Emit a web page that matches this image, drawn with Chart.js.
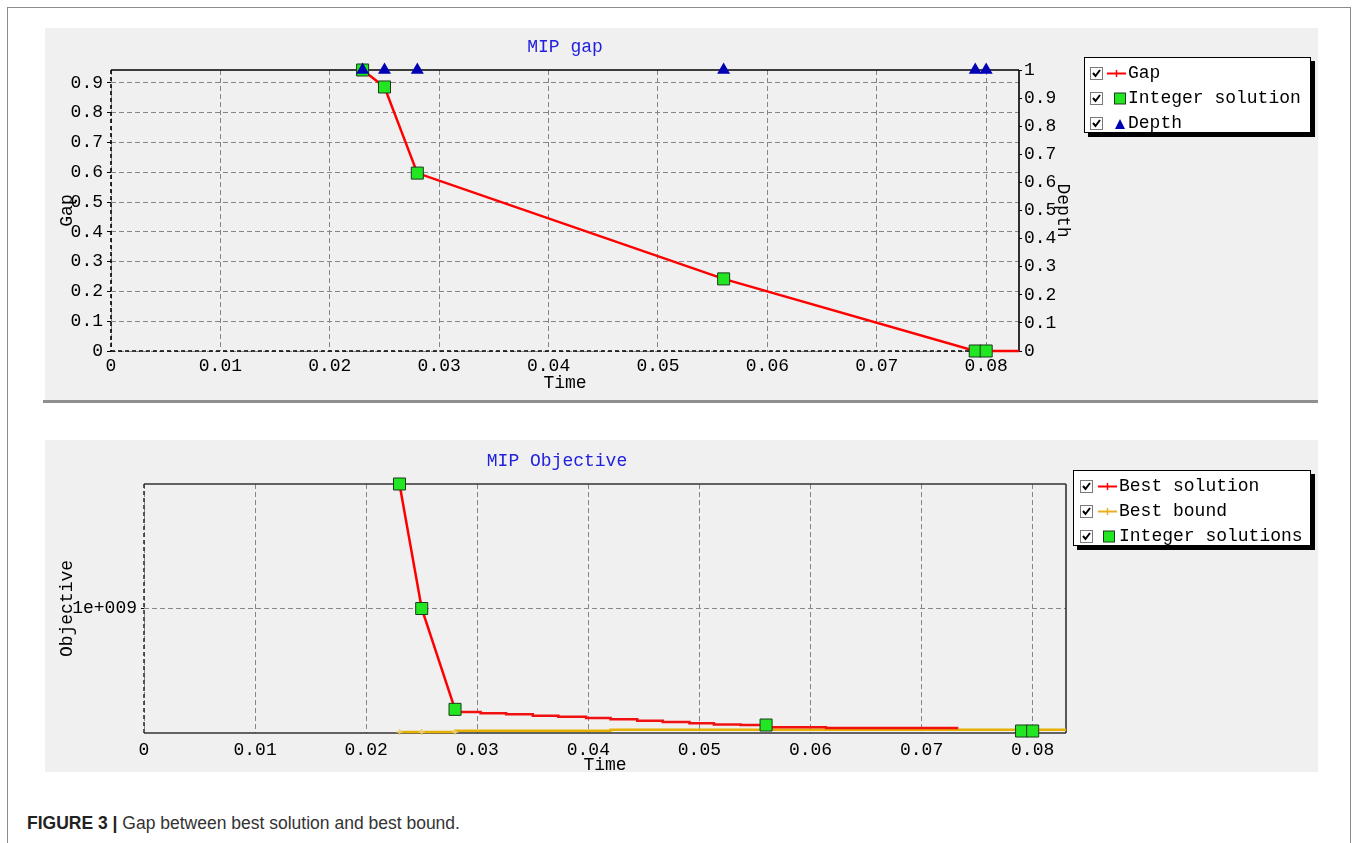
<!DOCTYPE html>
<html><head><meta charset="utf-8">
<script src="https://cdn.jsdelivr.net/npm/chart.js@4.4.1/dist/chart.umd.min.js"></script>
<style>
html,body{margin:0;padding:0;background:#fff;width:1357px;height:843px;overflow:hidden;}
#frame{position:absolute;left:7px;top:7px;width:1342px;height:900px;border:1px solid #8c8c8c;border-bottom:none;}
.panel{position:absolute;background:#f0f0f0;}
#p1{left:45px;top:28px;width:1273px;height:372px;}
#sep{position:absolute;left:43px;top:400px;width:1275px;height:3px;background:#8f8f8f;}
#p2{left:45px;top:440px;width:1273px;height:332px;}
canvas{position:absolute;}
#c1{left:45px;top:28px;}
#c2{left:45px;top:440px;}
.legend{position:absolute;background:#fff;border:1px solid #000;box-shadow:4px 4px 0 #000;font:18px "Liberation Mono",monospace;color:#000;padding-top:3px;box-sizing:border-box;}
.row{position:relative;height:25px;line-height:25px;white-space:nowrap;}
.row svg{position:absolute;}
.row .cb{left:5px;top:6px;}
.row .ic{left:22px;top:6px;}
.row span{position:absolute;left:43px;top:0;}
#lg1{left:1084px;top:57px;width:227px;height:76px;}
#lg2{left:1073px;top:470px;width:238px;height:76px;}
#lg2 .cb{left:6px;}
#lg2 .ic{left:24px;}
#lg2 span{left:45px;}
#caption{position:absolute;left:27px;top:812px;font:17.5px "Liberation Sans",Arial,sans-serif;color:#333;line-height:22px;}
#caption b{color:#222;}
</style>
</head>
<body>
<div id="frame"></div>
<div class="panel" id="p1"></div>
<div id="sep"></div>
<div class="panel" id="p2"></div>
<canvas id="c1" width="1273" height="372"></canvas>
<canvas id="c2" width="1273" height="340"></canvas>

<div class="legend" id="lg1">
  <div class="row">
    <svg class="cb" width="13" height="13"><rect x="0.5" y="0.5" width="12" height="12" fill="#fff" stroke="#7a7a7a"/><polyline points="3,6 5.5,9 10,3" fill="none" stroke="#000" stroke-width="2"/></svg>
    <svg class="ic" width="20" height="13"><line x1="0" y1="6.5" x2="19" y2="6.5" stroke="#ff0000" stroke-width="2"/><line x1="9.5" y1="3" x2="9.5" y2="10" stroke="#ff0000" stroke-width="1.5"/></svg>
    <span>Gap</span>
  </div>
  <div class="row">
    <svg class="cb" width="13" height="13"><rect x="0.5" y="0.5" width="12" height="12" fill="#fff" stroke="#7a7a7a"/><polyline points="3,6 5.5,9 10,3" fill="none" stroke="#000" stroke-width="2"/></svg>
    <svg class="ic" width="20" height="13"><rect x="7.5" y="1" width="11" height="11" fill="#22e622" stroke="#1c3a1c"/></svg>
    <span>Integer solution</span>
  </div>
  <div class="row">
    <svg class="cb" width="13" height="13"><rect x="0.5" y="0.5" width="12" height="12" fill="#fff" stroke="#7a7a7a"/><polyline points="3,6 5.5,9 10,3" fill="none" stroke="#000" stroke-width="2"/></svg>
    <svg class="ic" width="20" height="13"><polygon points="13,2 8,12 18,12" fill="#0000b4"/></svg>
    <span>Depth</span>
  </div>
</div>

<div class="legend" id="lg2">
  <div class="row">
    <svg class="cb" width="13" height="13"><rect x="0.5" y="0.5" width="12" height="12" fill="#fff" stroke="#7a7a7a"/><polyline points="3,6 5.5,9 10,3" fill="none" stroke="#000" stroke-width="2"/></svg>
    <svg class="ic" width="20" height="13"><line x1="0" y1="6.5" x2="19" y2="6.5" stroke="#ff0000" stroke-width="2"/><line x1="9.5" y1="3" x2="9.5" y2="10" stroke="#ff0000" stroke-width="1.5"/></svg>
    <span>Best solution</span>
  </div>
  <div class="row">
    <svg class="cb" width="13" height="13"><rect x="0.5" y="0.5" width="12" height="12" fill="#fff" stroke="#7a7a7a"/><polyline points="3,6 5.5,9 10,3" fill="none" stroke="#000" stroke-width="2"/></svg>
    <svg class="ic" width="20" height="13"><line x1="0" y1="6.5" x2="19" y2="6.5" stroke="#e8b020" stroke-width="2"/><line x1="9.5" y1="3" x2="9.5" y2="10" stroke="#e8b020" stroke-width="1.5"/></svg>
    <span>Best bound</span>
  </div>
  <div class="row">
    <svg class="cb" width="13" height="13"><rect x="0.5" y="0.5" width="12" height="12" fill="#fff" stroke="#7a7a7a"/><polyline points="3,6 5.5,9 10,3" fill="none" stroke="#000" stroke-width="2"/></svg>
    <svg class="ic" width="20" height="13"><rect x="5.5" y="1" width="11" height="11" fill="#22e622" stroke="#1c3a1c"/></svg>
    <span>Integer solutions</span>
  </div>
</div>

<div id="caption"><b>FIGURE 3 |</b> Gap between best solution and best bound.</div>

<script>
// ---- tick values / labels ----
const timeTicks = [0, 0.01, 0.02, 0.03, 0.04, 0.05, 0.06, 0.07, 0.08];
const timeTickLabels = ['0', '0.01', '0.02', '0.03', '0.04', '0.05', '0.06', '0.07', '0.08'];
const gapTicks = [0, 0.1, 0.2, 0.3, 0.4, 0.5, 0.6, 0.7, 0.8, 0.9];
const gapTickLabels = ['0', '0.1', '0.2', '0.3', '0.4', '0.5', '0.6', '0.7', '0.8', '0.9'];
const depthTicks = [0, 0.1, 0.2, 0.3, 0.4, 0.5, 0.6, 0.7, 0.8, 0.9, 1];
const depthTickLabels = ['0', '0.1', '0.2', '0.3', '0.4', '0.5', '0.6', '0.7', '0.8', '0.9', '1'];
const objectiveTicks = [1e9];
const objectiveTickLabels = ['1e+009'];

// ---- MIP gap chart data ----
const gapTime = [0.023, 0.025, 0.028, 0.056, 0.079, 0.080, 0.083];
const gapValue = [0.943, 0.886, 0.597, 0.242, 0, 0, 0];
const intSolTime = [0.023, 0.025, 0.028, 0.056, 0.079, 0.080];
const intSolGap = [0.943, 0.886, 0.597, 0.242, 0, 0];
const depthTime = [0.023, 0.025, 0.028, 0.056, 0.079, 0.080];
const depthValue = [1, 1, 1, 1, 1, 1];

// ---- MIP objective chart data ----
const bestSolTime = [0.023, 0.025, 0.028];
const bestSolValue = [2.0e9, 1.0e9, 0.19e9];
const bestSolStepTime = [0.028, 0.0303, 0.0326, 0.0350, 0.0373, 0.0398, 0.0420, 0.0444, 0.0467, 0.0491, 0.0513, 0.0537, 0.0560, 0.0614, 0.0675, 0.0733];
const bestSolStepValue = [0.190e9, 0.169e9, 0.158e9, 0.150e9, 0.139e9, 0.131e9, 0.120e9, 0.110e9, 0.099e9, 0.088e9, 0.078e9, 0.069e9, 0.064e9, 0.046e9, 0.040e9, 0.040e9];
const bestBoundTime = [0.023, 0.025, 0.028, 0.042, 0.056, 0.083];
const bestBoundValue = [0.008e9, 0.008e9, 0.008e9, 0.018e9, 0.026e9, 0.026e9];
const intSolObjTime = [0.023, 0.025, 0.028, 0.056, 0.079, 0.080];
const intSolObjValue = [2.0e9, 1.0e9, 0.19e9, 0.064e9, 0.016e9, 0.016e9];

const pts = (xs, ys) => xs.map((x, i) => ({x: x, y: ys[i]}));

Chart.defaults.font.family = '"Liberation Mono", "DejaVu Sans Mono", monospace';
Chart.defaults.font.size = 18;
Chart.defaults.color = '#000';

const framePlugin = {
  id: 'frame',
  beforeDatasetsDraw(chart, args, o) {
    const {ctx, chartArea: a} = chart;
    const seg = (x1, y1, x2, y2, dashed) => {
      ctx.save();
      ctx.strokeStyle = o.color;
      ctx.lineWidth = o.width;
      ctx.setLineDash(dashed ? [4, 3] : []);
      ctx.beginPath(); ctx.moveTo(x1, y1); ctx.lineTo(x2, y2); ctx.stroke();
      ctx.restore();
    };
    seg(a.left, a.top, a.right, a.top, o.top === 'dashed');
    seg(a.right, a.top, a.right, a.bottom, o.right === 'dashed');
    seg(a.left, a.top, a.left, a.bottom, o.left === 'dashed');
    seg(a.left, a.bottom, a.right, a.bottom, o.bottom === 'dashed');
  }
};
const panelTitle = {
  id: 'panelTitle',
  afterDraw(chart, args, o) {
    const {ctx, chartArea: a} = chart;
    ctx.save();
    ctx.font = '18px "Liberation Mono", monospace';
    ctx.fillStyle = o.color;
    ctx.textAlign = 'center';
    ctx.textBaseline = 'middle';
    ctx.fillText(o.text, (a.left + a.right) / 2 + o.dx, a.top - o.dy);
    ctx.restore();
  }
};

const gridOpts = {color: '#858585', lineWidth: 1, drawTicks: false};
const setTicks = (vals) => (s) => { s.ticks = vals.map(v => ({value: v})); };

// ---------- Chart 1: MIP gap ----------
new Chart(document.getElementById('c1'), {
  type: 'line',
  data: {
    datasets: [
      {label: 'Depth', data: pts(depthTime, depthValue), yAxisID: 'y1', showLine: false,
       pointStyle: 'triangle', pointRadius: 7.5, pointBackgroundColor: '#0000b4', pointBorderColor: '#0000b4', pointBorderWidth: 0, order: 0, clip: false},
      {label: 'Integer solution', data: pts(intSolTime, intSolGap), yAxisID: 'y', showLine: false,
       pointStyle: 'rect', pointRadius: 8.5, pointBackgroundColor: '#22e622', pointBorderColor: '#1c3a1c', pointBorderWidth: 1, order: 1, clip: false},
      {label: 'Gap', data: pts(gapTime, gapValue), yAxisID: 'y', borderColor: '#ff0000', borderWidth: 2.5,
       pointRadius: 0, tension: 0, order: 2, clip: false}
    ]
  },
  options: {
    responsive: false, animation: false, events: [],
    layout: {padding: {top: 42, left: 0, right: 239, bottom: 0}},
    plugins: {
      legend: {display: false}, tooltip: {enabled: false},
      frame: {color: '#000', width: 1.6, top: 'solid', right: 'solid', left: 'dashed', bottom: 'dashed'},
      panelTitle: {text: 'MIP gap', color: '#2222dd', dx: 0, dy: 23}
    },
    scales: {
      x: {type: 'linear', min: 0, max: 0.083,
          afterBuildTicks: setTicks(timeTicks),
          afterFit: s => { s.height = 49; },
          ticks: {autoSkip: false, maxRotation: 0, padding: 4, callback: (v, i) => timeTickLabels[i]},
          grid: gridOpts, border: {display: false, dash: [5, 3]},
          title: {display: true, text: 'Time', padding: {top: 0, bottom: 6}}},
      y: {type: 'linear', position: 'left', min: 0, max: 0.943,
          afterBuildTicks: setTicks(gapTicks),
          afterFit: s => { s.width = 66; },
          ticks: {padding: 4, callback: (v, i) => gapTickLabels[i]},
          grid: {color: '#858585', lineWidth: 1, drawTicks: true, tickLength: 4, tickColor: '#000', tickBorderDash: []},
          border: {display: false, dash: [5, 3]},
          title: {display: true, text: 'Gap', padding: {top: 11, bottom: 0}}},
      y1: {type: 'linear', position: 'right', min: 0, max: 1,
          afterBuildTicks: setTicks(depthTicks),
          afterFit: s => { s.width = 60; },
          ticks: {padding: 2, callback: (v, i) => depthTickLabels[i]},
          grid: {drawOnChartArea: false, drawTicks: true, tickLength: 3, tickColor: '#000'},
          border: {display: false},
          title: {display: true, text: 'Depth', padding: {top: 5, bottom: 0}}}
    }
  },
  plugins: [framePlugin, panelTitle]
});

// ---------- Chart 2: MIP Objective ----------
new Chart(document.getElementById('c2'), {
  type: 'line',
  data: {
    datasets: [
      {label: 'Integer solutions', data: pts(intSolObjTime, intSolObjValue), showLine: false,
       pointStyle: 'rect', pointRadius: 8.5, pointBackgroundColor: '#22e622', pointBorderColor: '#1c3a1c', pointBorderWidth: 1, order: 0, clip: false},
      {label: 'Best solution', data: pts(bestSolTime, bestSolValue), borderColor: '#ff0000', borderWidth: 2.5,
       pointRadius: 0, tension: 0, order: 1, clip: false},
      {label: 'Best solution (steps)', data: pts(bestSolStepTime, bestSolStepValue), borderColor: '#f01010', borderWidth: 2.5,
       pointRadius: 0, stepped: 'after', order: 1, clip: false},
      {label: 'Best bound', data: pts(bestBoundTime, bestBoundValue), borderColor: '#e6b000', borderWidth: 2.5,
       stepped: 'after', pointStyle: 'cross', pointRadius: [3, 3, 3, 0, 0, 0], pointBorderColor: '#e8d070', pointBorderWidth: 1.5,
       order: 2, clip: false}
    ]
  },
  options: {
    responsive: false, animation: false, events: [],
    layout: {padding: {top: 44, left: 0, right: 252, bottom: 0}},
    plugins: {
      legend: {display: false}, tooltip: {enabled: false},
      frame: {color: '#333', width: 1.6, top: 'solid', right: 'solid', left: 'dashed', bottom: 'solid'},
      panelTitle: {text: 'MIP Objective', color: '#2222dd', dx: -48, dy: 23}
    },
    scales: {
      x: {type: 'linear', min: 0, max: 0.083,
          afterBuildTicks: setTicks(timeTicks),
          afterFit: s => { s.height = 47; },
          ticks: {autoSkip: false, maxRotation: 0, padding: 6, callback: (v, i) => timeTickLabels[i]},
          grid: gridOpts, border: {display: false, dash: [5, 3]},
          title: {display: true, text: 'Time', padding: {top: 0, bottom: 4}}},
      y: {type: 'linear', position: 'left', min: 0, max: 2e9,
          afterBuildTicks: setTicks(objectiveTicks),
          afterFit: s => { s.width = 99; },
          ticks: {padding: 4, callback: (v, i) => objectiveTickLabels[i]},
          grid: {color: '#858585', lineWidth: 1, drawTicks: true, tickLength: 3, tickColor: '#000', tickBorderDash: []},
          border: {display: false, dash: [5, 3]},
          title: {display: true, text: 'Objective', padding: {top: 11, bottom: 0}}}
    }
  },
  plugins: [framePlugin, panelTitle]
});
</script>
</body></html>
